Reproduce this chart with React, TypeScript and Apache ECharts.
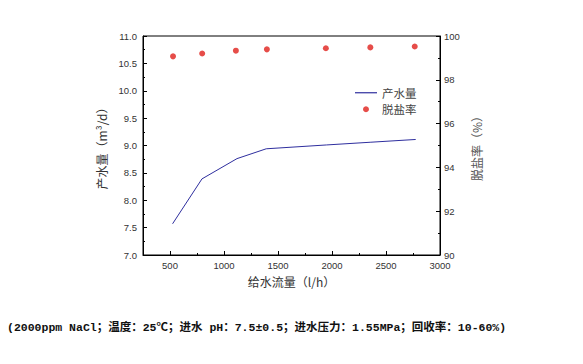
import React, { useEffect, useRef } from "react";
import * as echarts from "echarts";

const flowLine = [524, 796, 1120, 1391, 1950, 2360, 2775];
const waterOutput = [7.57, 8.39, 8.76, 8.94, 9.01, 9.06, 9.11];
const flowScatter = [528, 798, 1110, 1397, 1943, 2355, 2766];
const saltRejection = [99.07, 99.2, 99.33, 99.39, 99.44, 99.48, 99.52];
const xMajorTicks = [500, 1000, 1500, 2000, 2500, 3000];
const xMinorTicks = [750, 1250, 1750, 2250, 2750];
const caption = "(2000ppm NaCl；温度：25℃；进水 pH：7.5±0.5；进水压力：1.55MPa；回收率：10-60%)";

const tickFont = { fontFamily: "'Liberation Sans', Arial, sans-serif", fontSize: 9.5, color: "#333" };
const cjk = "'Noto Sans CJK SC', sans-serif";

export default function App() {
  const ref = useRef<HTMLDivElement>(null);
  useEffect(() => {
    const chart = echarts.init(ref.current!, null, { renderer: "svg" });
    chart.setOption({
      animation: false,
      backgroundColor: "#fff",
      grid: { left: 143, right: 143, top: 36, bottom: 109, show: true, borderColor: "#000", borderWidth: 1 },
      legend: {
        orient: "vertical",
        left: 355,
        top: 87,
        padding: 0,
        itemGap: 5,
        itemWidth: 22,
        itemHeight: 6,
        textStyle: { fontFamily: cjk, fontSize: 11.5, color: "#444", lineHeight: 11.5 },
        data: [
          { name: "产水量", icon: "path://M0,0 H22 V1.2 H0 Z" },
          { name: "脱盐率", icon: "circle" },
        ],
      },
      xAxis: [
        {
          type: "value",
          min: 250,
          max: 3000,
          name: "给水流量（l/h）",
          nameLocation: "middle",
          nameGap: 20,
          nameTextStyle: { fontFamily: cjk, fontSize: 12, color: "#333" },
          axisLine: { show: true, lineStyle: { color: "#000" } },
          axisTick: { show: true, inside: true, length: 4, customValues: xMajorTicks, lineStyle: { color: "#000" } },
          axisLabel: { ...tickFont, margin: 5, customValues: xMajorTicks, formatter: (v: number) => String(v) },
          splitLine: { show: false },
        },
        {
          type: "value",
          min: 250,
          max: 3000,
          position: "bottom",
          axisLine: { show: false },
          axisTick: { show: true, inside: true, length: 2, customValues: xMinorTicks, lineStyle: { color: "#000" } },
          axisLabel: { show: false },
          splitLine: { show: false },
        },
      ],
      yAxis: [
        {
          type: "value",
          min: 7,
          max: 11,
          interval: 0.5,
          name: "产水量（m³/d）",
          nameLocation: "middle",
          nameRotate: 90,
          nameGap: 36,
          nameTextStyle: { fontFamily: cjk, fontSize: 12, color: "#333" },
          axisLine: { show: true, lineStyle: { color: "#000" } },
          axisTick: { show: true, inside: true, length: 4, lineStyle: { color: "#000" } },
          minorTick: { show: true, splitNumber: 2, length: 2, lineStyle: { color: "#000" } },
          axisLabel: { ...tickFont, margin: 6, formatter: (v: number) => v.toFixed(1) },
          splitLine: { show: false },
        },
        {
          type: "value",
          min: 90,
          max: 100,
          interval: 2,
          position: "right",
          name: "脱盐率（%）",
          nameLocation: "middle",
          nameRotate: 90,
          nameGap: 21,
          nameTextStyle: { fontFamily: cjk, fontSize: 12, color: "#555" },
          axisLine: { show: true, lineStyle: { color: "#000" } },
          axisTick: { show: true, inside: true, length: 4, lineStyle: { color: "#000" } },
          minorTick: { show: true, splitNumber: 2, length: 2, lineStyle: { color: "#000" } },
          axisLabel: { ...tickFont, margin: 4 },
          splitLine: { show: false },
        },
      ],
      series: [
        {
          name: "产水量",
          type: "line",
          xAxisIndex: 0,
          yAxisIndex: 0,
          symbol: "none",
          lineStyle: { color: "#2e2e9e", width: 1 },
          itemStyle: { color: "#2e2e9e" },
          data: flowLine.map((x, i) => [x, waterOutput[i]]),
        },
        {
          name: "脱盐率",
          type: "scatter",
          xAxisIndex: 0,
          yAxisIndex: 1,
          symbol: "circle",
          symbolSize: 6,
          itemStyle: { color: "#e0201b" },
          data: flowScatter.map((x, i) => [x, saltRejection[i]]),
        },
      ],
      graphic: [
        {
          type: "text",
          left: 7,
          top: 322,
          style: {
            text: caption,
            fontFamily: "'Liberation Mono', 'Noto Sans CJK SC', monospace",
            fontWeight: "bold",
            fontSize: 11.5,
            fill: "#111",
          },
        },
      ],
    });
    return () => chart.dispose();
  }, []);
  return <div ref={ref} style={{ position: "fixed", left: 0, top: 0, width: 583, height: 364 }} />;
}
